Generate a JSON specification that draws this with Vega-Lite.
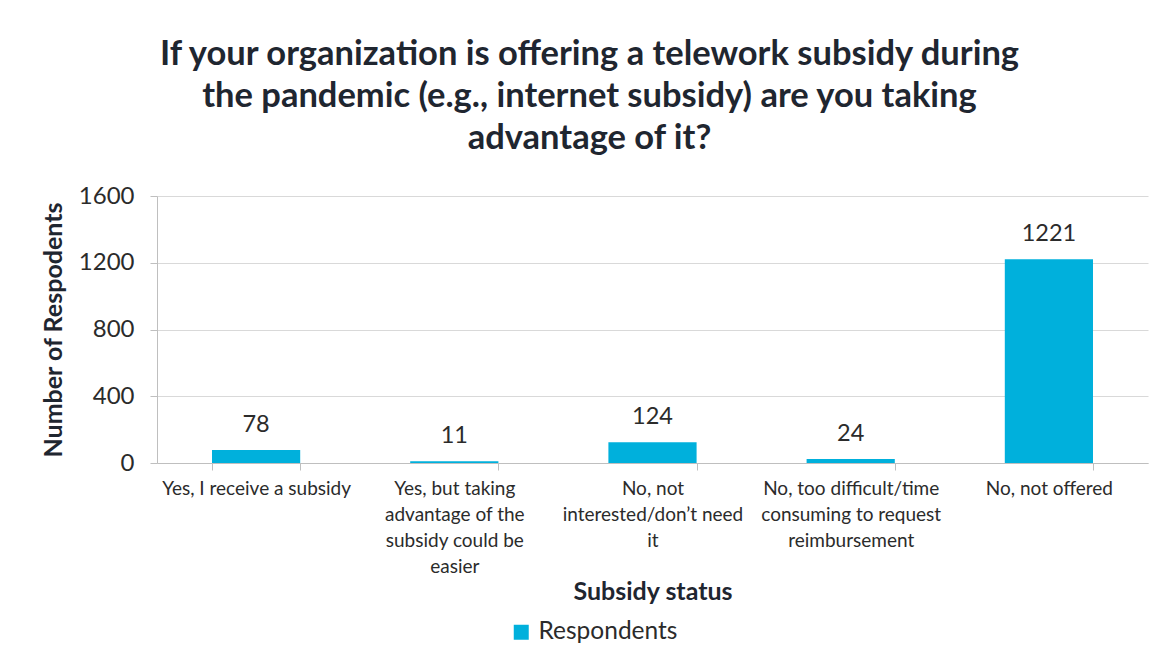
{
  "$schema": "https://vega.github.io/schema/vega-lite/v6.json",
  "width": 991,
  "height": 267,
  "autosize": "none",
  "padding": {"left": 157, "top": 196, "right": 26, "bottom": 208},
  "background": "white",
  "title": {
    "text": ["If your organization is offering a telework subsidy during", "the pandemic (e.g., internet subsidy) are you taking", "advantage of it?"],
    "font": "Lato",
    "fontSize": 34.5,
    "fontWeight": "bold",
    "color": "#1f2630",
    "lineHeight": 42,
    "anchor": "middle",
    "frame": "group",
    "dx": -63,
    "offset": 28
  },
  "data": {
    "values": [
      {"status": "Yes, I receive a subsidy", "respondents": 78},
      {"status": "Yes, but taking advantage of the subsidy could be easier", "respondents": 11},
      {"status": "No, not interested/don’t need it", "respondents": 124},
      {"status": "No, too difficult/time consuming to request reimbursement", "respondents": 24},
      {"status": "No, not offered", "respondents": 1221}
    ]
  },
  "encoding": {
    "x": {
      "field": "status",
      "type": "nominal",
      "sort": null,
      "scale": {"paddingInner": 0.555, "paddingOuter": 0.2775},
      "axis": {
        "title": "Subsidy status",
        "titleFont": "Lato",
        "titleFontSize": 25,
        "titleFontWeight": "bold",
        "titleColor": "#1f2630",
        "titlePadding": 3,
        "labelAngle": 0,
        "labelFont": "Lato",
        "labelFontSize": 19,
        "labelColor": "#2b2b2b",
        "labelLineHeight": 26,
        "labelPadding": 9,
        "labelBaseline": "top",
        "labelLimit": 0,
        "labelOverlap": false,
        "labelExpr": "datum.label == 'Yes, but taking advantage of the subsidy could be easier' ? ['Yes, but taking', 'advantage of the', 'subsidy could be', 'easier'] : datum.label == 'No, not interested/don’t need it' ? ['No, not', 'interested/don’t need', 'it'] : datum.label == 'No, too difficult/time consuming to request reimbursement' ? ['No, too difficult/time', 'consuming to request', 'reimbursement'] : datum.label",
        "tickBand": "extent",
        "tickSize": 7,
        "tickColor": "#bfbfbf",
        "domainColor": "#bfbfbf",
        "grid": false
      }
    },
    "y": {
      "field": "respondents",
      "type": "quantitative",
      "scale": {"domain": [0, 1600]},
      "axis": {
        "title": "Number of Respodents",
        "titleFont": "Lato",
        "titleFontSize": 25,
        "titleFontWeight": "bold",
        "titleColor": "#1f2630",
        "titlePadding": 12,
        "values": [0, 400, 800, 1200, 1600],
        "labelFont": "Lato",
        "labelFontSize": 24,
        "labelColor": "#2b2b2b",
        "labelPadding": 16,
        "tickSize": 7,
        "tickColor": "#bfbfbf",
        "domainColor": "#bfbfbf",
        "gridColor": "#d9d9d9",
        "format": "d"
      }
    }
  },
  "layer": [
    {
      "mark": {"type": "bar"},
      "encoding": {
        "color": {
          "datum": "Respondents",
          "type": "nominal",
          "scale": {"range": ["#00b0dc"]},
          "legend": {
            "title": null,
            "orient": "none",
            "legendX": 352,
            "legendY": 424,
            "symbolType": "square",
            "symbolSize": 225,
            "symbolStrokeWidth": 0,
            "labelFont": "Lato",
            "labelFontSize": 24.5,
            "labelColor": "#2b2b2b",
            "labelOffset": 5
          }
        }
      }
    },
    {
      "mark": {"type": "text", "baseline": "alphabetic", "dy": -18, "font": "Lato", "fontSize": 23.5, "color": "#2b2b2b"},
      "encoding": {
        "text": {"field": "respondents", "type": "quantitative"}
      }
    }
  ],
  "config": {
    "view": {"stroke": null}
  }
}
